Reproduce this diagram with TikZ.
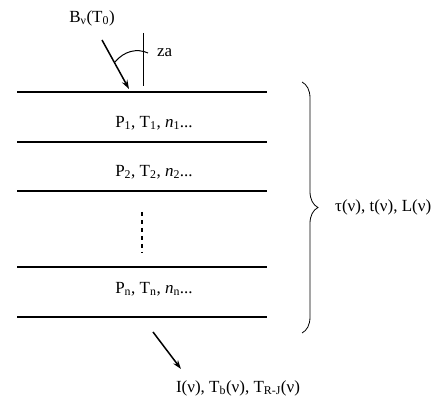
\documentclass[tikz,border=0pt]{standalone}
\usepackage{fontspec}
\setmainfont{Liberation Serif}
\usetikzlibrary{arrows.meta,decorations.pathreplacing}
\begin{document}
\begin{tikzpicture}[x=1pt,y=-1pt,
  every node/.style={font=\fontsize{17}{20}\selectfont, inner sep=0pt},
  layer/.style={line width=1.8pt},
  ray/.style={line width=1.5pt,-{Stealth[length=9pt,width=6pt]}},
  thin/.style={line width=1pt}]
\useasboundingbox (0,0) rectangle (440,409);
% layer boundaries
\coordinate (l1a) at (17,92);  \coordinate (l1b) at (267,92);
\coordinate (l2a) at (17,142); \coordinate (l2b) at (267,142);
\coordinate (l3a) at (17,191); \coordinate (l3b) at (267,191);
\coordinate (l4a) at (17,267); \coordinate (l4b) at (267,267);
\coordinate (l5a) at (17,317); \coordinate (l5b) at (267,317);
\draw[layer] (l1a) -- (l1b);
\draw[layer] (l2a) -- (l2b);
\draw[layer] (l3a) -- (l3b);
\draw[layer] (l4a) -- (l4b);
\draw[layer] (l5a) -- (l5b);
% layer labels
\node (p1) at (154,123) {P\textsubscript{1}, T\textsubscript{1}, \textit{n}\textsubscript{1}...};
\node (p2) at (154,172) {P\textsubscript{2}, T\textsubscript{2}, \textit{n}\textsubscript{2}...};
\node (pn) at (154,289) {P\textsubscript{n}, T\textsubscript{n}, \textit{n}\textsubscript{n}...};
% dots
\coordinate (d1) at (142,212); \coordinate (d2) at (142,253);
\draw[line width=1.6pt, dash pattern=on 4pt off 4pt] (d1) -- (d2);
% top incoming ray
\node (bv) at (92,18) {B\textsubscript{ν}(T\textsubscript{0})};
\coordinate (vt) at (143,33); \coordinate (vb) at (143,86);
\draw[thin] (vt) -- (vb);
\coordinate (rs) at (102,40); \coordinate (re) at (129,89);
\draw[ray] (rs) -- (re);
\coordinate (as) at (115,62); \coordinate (ae) at (148,53);
\draw[thin] (as) .. controls (124,51) and (137,48) .. (ae);
\node[anchor=west] (za) at (157,53) {za};
% brace
\coordinate (bt) at (302,82); \coordinate (bb) at (302,333);
\draw[line width=0.8pt, decorate, decoration={brace, amplitude=16pt}] (bt) -- (bb);
\node[anchor=west] (tau) at (335,207) {τ(ν), t(ν), L(ν)};
% bottom outgoing ray
\coordinate (os) at (153,332); \coordinate (oe) at (181,369);
\draw[ray] (os) -- (oe);
\node (out) at (238,388) {I(ν), T\textsubscript{b}(ν), T\textsubscript{R-J}(ν)};
\end{tikzpicture}
\end{document}
